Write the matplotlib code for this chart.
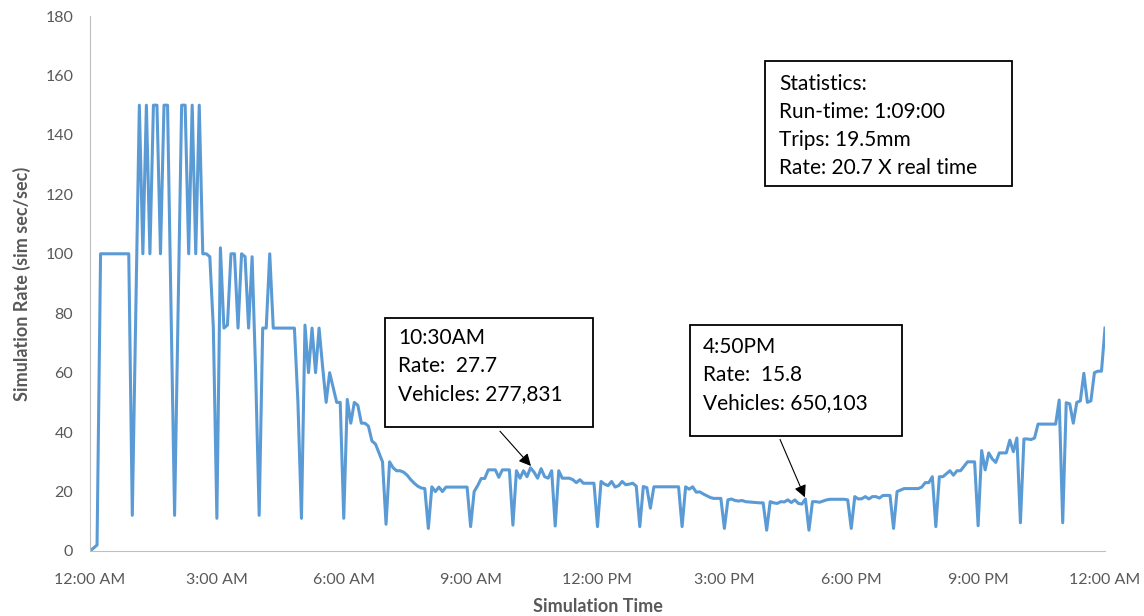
import numpy as np
import matplotlib
matplotlib.use('Agg')
import matplotlib.pyplot as plt
from matplotlib.patches import Rectangle

plt.rcParams['font.family'] = ['Lato', 'DejaVu Sans']

# simulation rate, one value every 5 minutes (row = one hour, :00 ... :55)
rate = [
    0, 1, 2, 100, 100, 100, 100, 100, 100, 100, 100, 100,            # 12 AM
    12, 80, 150, 100, 150, 100, 150, 150, 100, 150, 150, 80,          # 1 AM
    12, 80, 150, 150, 100, 150, 100, 150, 100, 100, 99, 75,           # 2 AM
    11, 102, 75, 76, 100, 100, 75, 100, 99, 75, 99, 60,               # 3 AM
    12, 75, 75, 100, 75, 75, 75, 75, 75, 75, 75, 50,                  # 4 AM
    11, 76, 60, 75, 60, 75, 62, 50, 60, 55, 50, 50,                   # 5 AM
    11, 51, 43, 50, 49, 43, 43, 42, 37, 36, 33, 30,                   # 6 AM
    9, 30, 28, 27, 27, 26.5, 25.5, 24, 22.8, 21.8, 21.2, 21,          # 7 AM
    7.6, 21.6, 20, 21.5, 20, 21.5, 21.5, 21.5, 21.5, 21.5, 21.5, 21.5,  # 8 AM
    8.2, 20, 22, 24.4, 24.4, 27.3, 27.3, 27.3, 24.8, 27.3, 27.3, 27.3,  # 9 AM
    8.7, 27, 24.5, 27, 25, 28, 26.5, 24.5, 27.7, 25, 24.5, 27,        # 10 AM
    8.4, 27, 24.5, 24.5, 24.5, 24, 23, 24, 22.8, 22.8, 22.8, 22.8,    # 11 AM
    8.2, 23.4, 22.5, 22, 23.4, 21.5, 22, 23.4, 22.3, 22.5, 22.8, 21.8,  # 12 PM
    8.2, 21.7, 21.3, 14.4, 21.6, 21.6, 21.6, 21.6, 21.6, 21.6, 21.6, 21.6,  # 1 PM
    8.2, 21.6, 20.8, 21.6, 19.8, 19.9, 19.2, 18.6, 18, 17.7, 17.7, 17.7,  # 2 PM
    7.6, 17.2, 17.5, 17, 16.8, 17, 16.6, 16.5, 16.4, 16.3, 16.2, 16.2,  # 3 PM
    7, 16.6, 16.2, 16, 16.6, 16.5, 17.2, 16.3, 17.2, 16, 15.8, 17.5,  # 4 PM
    7, 16.6, 16.6, 16.4, 16.8, 17.2, 17.4, 17.4, 17.4, 17.4, 17.4, 17.2,  # 5 PM
    7.6, 18.3, 17.5, 17.6, 18.3, 17.5, 18.3, 18.3, 17.8, 18.7, 18.7, 18.7,  # 6 PM
    7.6, 20, 20.5, 21, 21, 21, 21, 21, 21.5, 23, 23, 25,              # 7 PM
    8.2, 25, 25, 26, 27, 25.5, 27, 27, 28.5, 30, 30, 30,              # 8 PM
    8.5, 33.8, 27.3, 33, 31, 29.8, 33, 33, 33, 37.3, 33.4, 38,        # 9 PM
    9.5, 37.7, 37.7, 37.5, 38, 42.7, 42.7, 42.7, 42.7, 42.7, 42.7, 50.8,  # 10 PM
    9.5, 49.9, 49.5, 43, 50, 50.5, 59.8, 50, 50.5, 60, 60.5, 60.5,    # 11 PM
    75,                                                               # 12 AM
]
hours = np.arange(len(rate)) * 5 / 60.0

tick_hours = [0, 3, 6, 9, 12, 15, 18, 21, 24]
tick_labels = ['12:00 AM', '3:00 AM', '6:00 AM', '9:00 AM', '12:00 PM',
               '3:00 PM', '6:00 PM', '9:00 PM', '12:00 AM']

note1 = '10:30AM\nRate:  27.7\nVehicles: 277,831'
note2 = '4:50PM\nRate:  15.8\nVehicles: 650,103'
stats = 'Statistics:\nRun-time: 1:09:00\nTrips: 19.5mm\nRate: 20.7 X real time'

grey = '#595959'
fig = plt.figure(figsize=(11.44, 6.16), dpi=100)
ax = fig.add_axes([90/1144, 65/616, 1015/1144, 535/616])

ax.plot(hours, rate, color='#5B9BD5', lw=2.2, solid_joinstyle='round')

ax.set_xlim(0, 24)
ax.set_ylim(0, 180)
ax.set_xticks(tick_hours)
ax.set_xticklabels(tick_labels)
ax.set_yticks(range(0, 181, 20))
ax.tick_params(length=0, labelsize=11.5, colors=grey)
ax.tick_params(axis='x', pad=16)
ax.tick_params(axis='y', pad=12)
for s in ['top', 'right']:
    ax.spines[s].set_visible(False)
for s in ['left', 'bottom']:
    ax.spines[s].set_color('#BFBFBF')

ax.set_ylabel('Simulation Rate (sim sec/sec)', fontsize=13, fontweight='bold', color=grey, labelpad=10)
ax.set_xlabel('Simulation Time', fontsize=13, fontweight='bold', color=grey, labelpad=8)

# annotation boxes
def box(x0, x1, y0, y1, text, tx, ty):
    ax.add_patch(Rectangle((x0, y0), x1 - x0, y1 - y0, fill=True, fc='white',
                           ec='black', lw=1.3, zorder=5))
    ax.text(tx, ty, text, fontsize=15, va='top', ha='left', color='black',
            linespacing=1.5, zorder=6)

box(6.98, 11.89, 41.7, 78.4, note1, 7.28, 75.0)
box(14.19, 19.2, 38.7, 76.0, note2, 14.5, 72.0)
box(15.96, 21.8, 122.8, 164.9, stats, 16.3, 160.5)

arrow = dict(arrowstyle='-|>', color='black', lw=0.8, mutation_scale=18)
ax.annotate('', xy=(10.47, 27.9), xytext=(9.65, 41.0), arrowprops=arrow)
ax.annotate('', xy=(16.93, 17.2), xytext=(16.29, 38.4), arrowprops=arrow)

plt.savefig('out.png', dpi=100)
